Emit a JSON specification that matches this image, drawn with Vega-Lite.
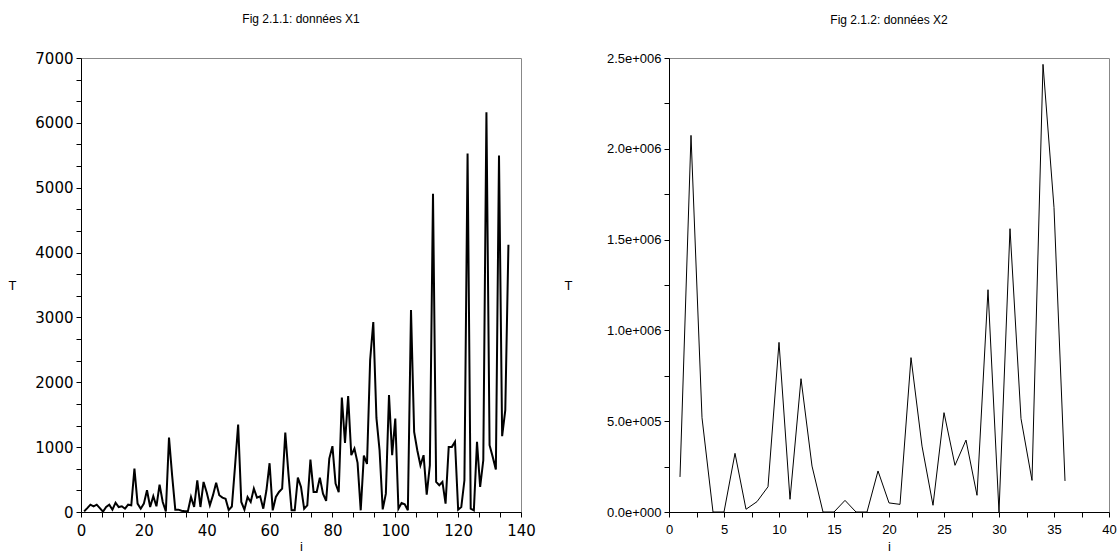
{
  "$schema": "https://vega.github.io/schema/vega-lite/v6.json",
  "background": "white",
  "padding": {"left": 7, "top": 12, "right": 5, "bottom": 0},
  "bounds": "flush",
  "spacing": 148,
  "config": {
    "font": "Liberation Sans",
    "view": {"stroke": "#888888", "strokeWidth": 1},
    "axis": {"domainColor": "#000000", "tickColor": "#000000", "labelColor": "#000000", "titleColor": "#000000", "titleFontWeight": "normal", "grid": false, "tickSize": 5, "domainWidth": 1, "tickWidth": 1},
    "title": {"fontSize": 12, "fontWeight": "normal", "color": "#000000", "offset": 25}
  },
  "datasets": {
    "x1": [
      {"i":1,"T":10},{"i":2,"T":60},{"i":3,"T":113},{"i":4,"T":88},{"i":5,"T":113},{"i":6,"T":60},{"i":7,"T":5},{"i":8,"T":77},{"i":9,"T":113},{"i":10,"T":36},
      {"i":11,"T":144},{"i":12,"T":77},{"i":13,"T":88},{"i":14,"T":51},{"i":15,"T":113},{"i":16,"T":103},{"i":17,"T":670},{"i":18,"T":129},{"i":19,"T":51},{"i":20,"T":129},
      {"i":21,"T":335},{"i":22,"T":77},{"i":23,"T":242},{"i":24,"T":88},{"i":25,"T":422},{"i":26,"T":155},{"i":27,"T":10},{"i":28,"T":1148},{"i":29,"T":560},{"i":30,"T":36},
      {"i":31,"T":36},{"i":32,"T":20},{"i":33,"T":10},{"i":34,"T":10},{"i":35,"T":232},{"i":36,"T":77},{"i":37,"T":489},{"i":38,"T":77},{"i":39,"T":463},{"i":40,"T":300},
      {"i":41,"T":103},{"i":42,"T":260},{"i":43,"T":450},{"i":44,"T":258},{"i":45,"T":221},{"i":46,"T":203},{"i":47,"T":30},{"i":48,"T":85},{"i":49,"T":700},{"i":50,"T":1349},
      {"i":51,"T":155},{"i":52,"T":36},{"i":53,"T":232},{"i":54,"T":155},{"i":55,"T":361},{"i":56,"T":221},{"i":57,"T":242},{"i":58,"T":51},{"i":59,"T":335},{"i":60,"T":752},
      {"i":61,"T":26},{"i":62,"T":232},{"i":63,"T":309},{"i":64,"T":360},{"i":65,"T":1226},{"i":66,"T":592},{"i":67,"T":26},{"i":68,"T":26},{"i":69,"T":530},{"i":70,"T":386},
      {"i":71,"T":51},{"i":72,"T":103},{"i":73,"T":809},{"i":74,"T":309},{"i":75,"T":309},{"i":76,"T":530},{"i":77,"T":283},{"i":78,"T":170},{"i":79,"T":824},{"i":80,"T":1015},
      {"i":81,"T":438},{"i":82,"T":304},{"i":83,"T":1766},{"i":84,"T":1066},{"i":85,"T":1787},{"i":86,"T":876},{"i":87,"T":979},{"i":88,"T":757},{"i":89,"T":26},{"i":90,"T":870},
      {"i":91,"T":740},{"i":92,"T":2343},{"i":93,"T":2930},{"i":94,"T":1450},{"i":95,"T":950},{"i":96,"T":40},{"i":97,"T":283},{"i":98,"T":1803},{"i":99,"T":876},{"i":100,"T":1442},
      {"i":101,"T":51},{"i":102,"T":139},{"i":103,"T":118},{"i":104,"T":26},{"i":105,"T":3116},{"i":106,"T":1236},{"i":107,"T":953},{"i":108,"T":721},{"i":109,"T":876},{"i":110,"T":268},
      {"i":111,"T":721},{"i":112,"T":4908},{"i":113,"T":464},{"i":114,"T":412},{"i":115,"T":464},{"i":116,"T":129},{"i":117,"T":1004},{"i":118,"T":1004},{"i":119,"T":1082},{"i":120,"T":36},
      {"i":121,"T":77},{"i":122,"T":489},{"i":123,"T":5526},{"i":124,"T":51},{"i":125,"T":26},{"i":126,"T":1082},{"i":127,"T":386},{"i":128,"T":798},{"i":129,"T":6165},{"i":130,"T":1030},
      {"i":131,"T":850},{"i":132,"T":654},{"i":133,"T":5496},{"i":134,"T":1169},{"i":135,"T":1571},{"i":136,"T":4120}
    ],
    "x2": [
      {"i":1,"T":193000},{"i":2,"T":2074000},{"i":3,"T":519000},{"i":4,"T":0},{"i":5,"T":0},{"i":6,"T":323000},{"i":7,"T":15000},{"i":8,"T":57000},{"i":9,"T":139000},{"i":10,"T":934000},
      {"i":11,"T":70000},{"i":12,"T":734000},{"i":13,"T":253000},{"i":14,"T":0},{"i":15,"T":0},{"i":16,"T":64000},{"i":17,"T":0},{"i":18,"T":0},{"i":19,"T":226000},{"i":20,"T":50000},
      {"i":21,"T":42000},{"i":22,"T":850000},{"i":23,"T":363000},{"i":24,"T":37000},{"i":25,"T":547000},{"i":26,"T":257000},{"i":27,"T":396000},{"i":28,"T":92000},{"i":29,"T":1224000},{"i":30,"T":0},
      {"i":31,"T":1560000},{"i":32,"T":514000},{"i":33,"T":174000},{"i":34,"T":2465000},{"i":35,"T":1676000},{"i":36,"T":171000}
    ]
  },
  "hconcat": [
    {
      "title": "Fig 2.1.1: données X1",
      "width": 440,
      "height": 454,
      "data": {"name": "x1"},
      "mark": {"type": "line", "color": "#000000", "strokeWidth": 2, "clip": true},
      "encoding": {
        "x": {"field": "i", "type": "quantitative", "scale": {"domain": [0, 140], "nice": false},
          "axis": {"title": "i", "titleFontSize": 13, "titleY": 34, "titleBaseline": "middle", "labelFont": "DejaVu Sans", "labelFontSize": 15, "labelPadding": 6, "labelFlush": false,
            "values": [0,6.6667,13.3333,20,26.6667,33.3333,40,46.6667,53.3333,60,66.6667,73.3333,80,86.6667,93.3333,100,106.6667,113.3333,120,126.6667,133.3333,140],
            "labelExpr": "abs(datum.value/20 - round(datum.value/20)) < 0.001 ? format(round(datum.value), 'd') : ''"}},
        "y": {"field": "T", "type": "quantitative", "scale": {"domain": [0, 7000], "nice": false},
          "axis": {"title": "T", "titleFontSize": 13, "titleAngle": 0, "titleX": -69, "titleY": 227, "titleAlign": "center", "titleBaseline": "middle", "labelFont": "DejaVu Sans", "labelFontSize": 15, "labelPadding": 3, "labelFlush": false,
            "values": [0,333.333,666.667,1000,1333.333,1666.667,2000,2333.333,2666.667,3000,3333.333,3666.667,4000,4333.333,4666.667,5000,5333.333,5666.667,6000,6333.333,6666.667,7000],
            "labelExpr": "abs(datum.value/1000 - round(datum.value/1000)) < 0.001 ? format(round(datum.value), 'd') : ''"}}
      }
    },
    {
      "title": "Fig 2.1.2: données X2",
      "width": 440,
      "height": 454,
      "data": {"name": "x2"},
      "mark": {"type": "line", "color": "#000000", "strokeWidth": 1, "clip": true},
      "encoding": {
        "x": {"field": "i", "type": "quantitative", "scale": {"domain": [0, 40], "nice": false},
          "axis": {"title": "i", "titleFontSize": 13, "titleY": 34, "titleBaseline": "middle", "labelFontSize": 13, "labelPadding": 6, "labelFlush": false,
            "values": [0,2.5,5,7.5,10,12.5,15,17.5,20,22.5,25,27.5,30,32.5,35,37.5,40],
            "labelExpr": "abs(datum.value/5 - round(datum.value/5)) < 0.001 ? format(round(datum.value), 'd') : ''"}},
        "y": {"field": "T", "type": "quantitative", "scale": {"domain": [0, 2500000], "nice": false},
          "axis": {"title": "T", "titleFontSize": 13, "titleAngle": 0, "titleX": -101, "titleY": 227, "titleAlign": "center", "titleBaseline": "middle", "labelFontSize": 13, "labelPadding": 3, "labelFlush": false,
            "values": [0,250000,500000,750000,1000000,1250000,1500000,1750000,2000000,2250000,2500000],
            "labelExpr": "datum.value % 500000 != 0 ? '' : datum.value == 0 ? '0.0e+000' : datum.value < 1000000 ? format(datum.value/100000, '.1f') + 'e+005' : format(datum.value/1000000, '.1f') + 'e+006'"}}
      }
    }
  ]
}
